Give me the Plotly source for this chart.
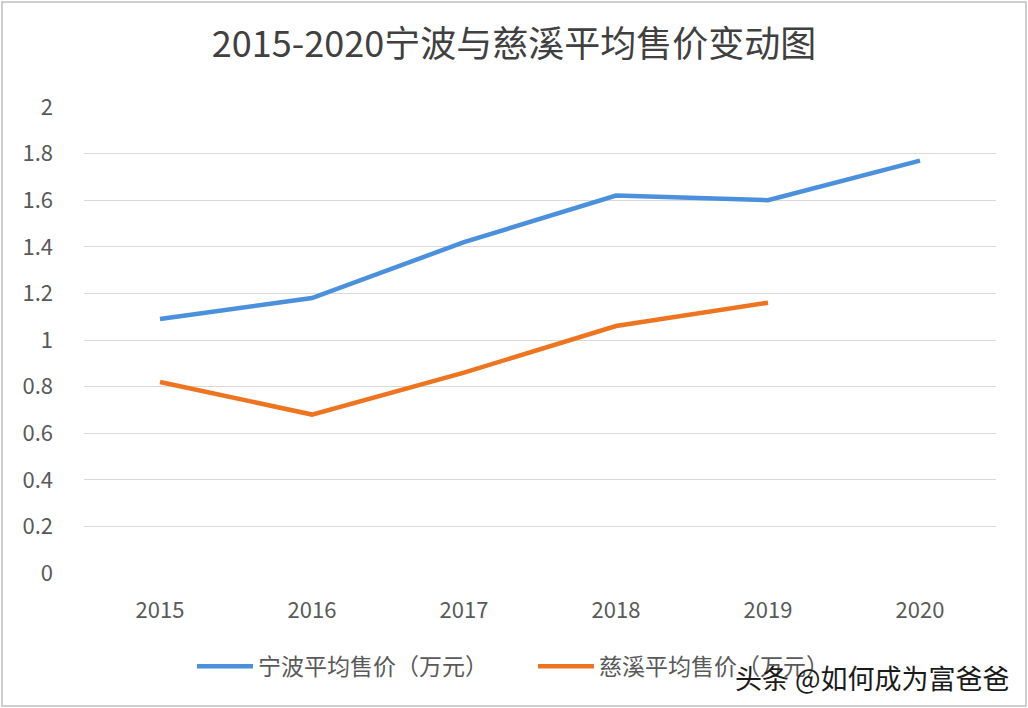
import plotly.graph_objects as go

years = ["2015", "2016", "2017", "2018", "2019", "2020"]
ningbo = [1.09, 1.18, 1.42, 1.62, 1.60, 1.77]
cixi = [0.82, 0.68, 0.86, 1.06, 1.16, None]
y_ticks = [0, 0.2, 0.4, 0.6, 0.8, 1, 1.2, 1.4, 1.6, 1.8, 2]
y_labels = ["0", "0.2", "0.4", "0.6", "0.8", "1", "1.2", "1.4", "1.6", "1.8", "2"]

font = "Noto Sans CJK SC, Noto Sans, sans-serif"

fig = go.Figure()
fig.add_trace(go.Scatter(x=years, y=ningbo, mode="lines", name="宁波平均售价（万元）",
                         line=dict(color="#4A90DD", width=4.5)))
fig.add_trace(go.Scatter(x=years, y=cixi, mode="lines", name="慈溪平均售价（万元）",
                         line=dict(color="#EE7420", width=4.5)))

fig.update_layout(
    width=1028, height=708,
    margin=dict(l=84, r=32, t=107, b=135),
    paper_bgcolor="white", plot_bgcolor="white",
    font=dict(family=font, color="#595959"),
    title=dict(text="2015-2020宁波与慈溪平均售价变动图", x=0.5, xanchor="center",
               y=0.937, yanchor="middle", font=dict(size=36, color="#404040")),
    legend=dict(orientation="h", x=(192 - 84) / 912, xanchor="left", y=-0.2, yanchor="middle",
                font=dict(size=23, color="#595959"), itemwidth=56, entrywidth=270),
    showlegend=True,
)
fig.update_xaxes(type="category", range=[-0.5, 5.5], showgrid=False, zeroline=False,
                 showline=False, ticks="", tickfont=dict(size=22, color="#595959"),
                 ticklabelstandoff=22)
fig.update_yaxes(range=[0, 2], tickvals=y_ticks, ticktext=y_labels, showgrid=True,
                 gridcolor="#D9D9D9", gridwidth=1.2, zeroline=False, showline=False,
                 ticks="", tickfont=dict(size=22, color="#595959"), ticklabelstandoff=30)

# outer border of the chart
fig.add_shape(type="rect", xref="paper", yref="paper", x0=-82/912, x1=1+30/912,
              y0=-133/466, y1=1+105/466, line=dict(color="#BFBFBF", width=1.5))

# watermark text
fig.add_annotation(text="头条 @如何成为富爸爸", xref="paper", yref="paper",
                   x=1.017, y=-0.225, xanchor="right", yanchor="middle", showarrow=False,
                   font=dict(size=27, color="#1a1a1a", family=font))

fig.write_html("out.html", config={"displayModeBar": False},
               post_script="document.body.style.margin='0';")
